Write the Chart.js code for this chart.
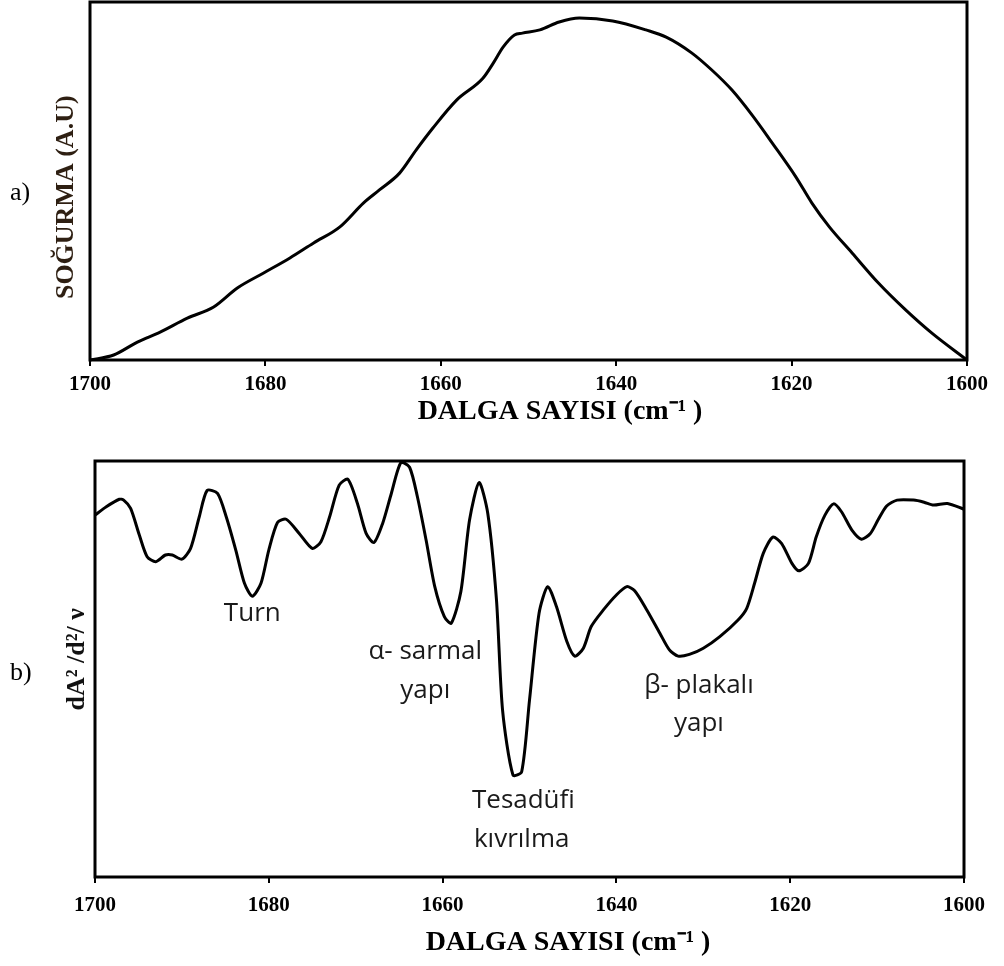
<!DOCTYPE html>
<html lang="tr">
<head>
<meta charset="UTF-8">
<title>Amid I bandı ve ikinci türev</title>
<script src="https://cdn.jsdelivr.net/npm/chart.js"></script>
<style>
    html, body {
        margin: 0;
        padding: 0;
        width: 1004px;
        height: 966px;
        overflow: hidden;
        background: #fff;
    }
    .panel {
        position: absolute;
        left: 0;
        width: 1004px;
    }
    #panelA { top: 0; height: 440px; }
    #panelB { top: 440px; height: 526px; }
    .tag {
        position: absolute;
        font-family: 'Liberation Serif', 'Times New Roman', serif;
        font-size: 26px;
        line-height: 1;
        color: #000;
    }
</style>
</head>
<body>
<div class="panel" id="panelA"><canvas id="chartA"></canvas></div>
<div class="panel" id="panelB"><canvas id="chartB"></canvas></div>
<div class="tag" style="left:10px; top:179px;">a)</div>
<div class="tag" style="left:10px; top:659px;">b)</div>

<script>
// x axis (wavenumber, cm-1), shared by both panels
const xTickValues = [1700, 1680, 1660, 1640, 1620, 1600];

// a) absorbance spectrum (arbitrary units)
const wavenumbersA = [1700, 1697.3, 1694.6, 1692, 1688.9, 1685.9, 1683.2, 1680.2, 1677.2, 1674.5,
    1671.5, 1668.8, 1667, 1664.7, 1662.8, 1660.9, 1658.2, 1655.2, 1654, 1652.9,
    1651.6, 1650.7, 1648.7, 1646.5, 1644.2, 1640.4, 1636.6, 1634.3, 1631.4, 1629.1,
    1626.8, 1624.5, 1622.2, 1619.5, 1617.7, 1615.7, 1613.1, 1610.1, 1607, 1604, 1600];
const absorbanceA = [0, 1.4, 5.0, 7.8, 11.7, 14.8, 20.1, 24.3, 28.5, 32.7,
    37.2, 43.9, 47.5, 52.2, 58.7, 64.8, 72.6, 78.7, 83.0, 87.4,
    90.8, 91.3, 92.2, 94.4, 95.5, 94.7, 92.2, 90.2, 85.8, 81.0,
    75.4, 68.4, 60.6, 51.1, 43.9, 37.2, 29.9, 21.5, 14.0, 7.5, 0];

// b) second derivative (arbitrary units)
const wavenumbersB = [1700, 1698.7, 1697.2, 1696.7, 1695.9, 1694.9, 1694, 1693, 1691.9, 1691.1,
    1690, 1689, 1688, 1687.1, 1685.9, 1684.9, 1683.8, 1682.8, 1681.9, 1680.9,
    1680, 1679, 1678, 1676.5, 1675, 1674, 1673, 1671.9, 1670.9, 1669.8,
    1668.8, 1667.9, 1666.9, 1665.9, 1664.8, 1663.8, 1662.9, 1661.9, 1660.9, 1659.8,
    1659, 1657.9, 1656.9, 1655.8, 1654.8, 1653.8, 1653.1, 1651.9, 1650.9, 1650,
    1648.9, 1647.9, 1646.9, 1645.7, 1644.8, 1643.8, 1642.9, 1641.5, 1640, 1638.8,
    1637.9, 1636.5, 1635, 1633.9, 1632.9, 1631.6, 1630, 1628.1, 1626, 1625,
    1624.1, 1623.1, 1622, 1621, 1619.8, 1619, 1617.9, 1617, 1616, 1615,
    1614.1, 1612.9, 1611.8, 1610.8, 1609.9, 1608.9, 1607.7, 1605.8, 1604.6, 1603.5,
    1601.9, 1600];
const derivativeB = [87.0, 89.0, 90.8, 90.6, 88.6, 82.2, 77.0, 75.8, 77.4, 77.4,
    76.4, 79.0, 86.6, 92.9, 92.2, 86.6, 78.6, 70.6, 67.5, 70.6,
    78.6, 85.2, 86.0, 82.6, 79.0, 80.6, 86.6, 94.2, 95.6, 89.8,
    82.6, 80.4, 85.0, 92.2, 99.6, 98.5, 91.4, 81.0, 69.8, 62.6,
    61.0, 68.6, 85.8, 94.8, 87.4, 66.6, 40.1, 24.5, 25.3, 42.5,
    63.4, 69.8, 65.0, 56.6, 53.1, 55.0, 60.2, 64.2, 67.8, 69.8,
    68.8, 64.2, 58.6, 54.6, 53.1, 53.5, 55.0, 57.8, 61.8, 64.6,
    70.6, 77.8, 81.7, 80.2, 75.4, 73.6, 75.4, 81.8, 87.0, 89.7,
    87.8, 83.4, 81.2, 82.5, 85.8, 89.2, 90.6, 90.6, 90.1, 89.4,
    89.8, 88.4];

// band assignments written on panel b (anchored in data units)
const noteText = ['Turn', 'α- sarmal', 'yapı', 'Tesadüfi', 'kıvrılma', 'β- plakalı', 'yapı'];
const noteWn   = [1681.9, 1662.0, 1662.0, 1650.7, 1650.9, 1630.5, 1630.5];
const noteVal  = [63.2, 54.1, 44.7, 18.3, 9.1, 45.9, 36.8];

const SERIF = "'Liberation Serif', 'Times New Roman', serif";
const xTitle = 'DALGA SAYISI (cm⁻¹ )';

// closed box round the plot area
const framePlugin = {
    id: 'frame',
    afterDatasetsDraw(chart) {
        const { ctx, chartArea: a } = chart;
        ctx.save();
        ctx.strokeStyle = '#000';
        ctx.lineWidth = 3;
        ctx.strokeRect(a.left, a.top, a.right - a.left, a.bottom - a.top);
        ctx.restore();
    }
};

const notesPlugin = {
    id: 'notes',
    afterDraw(chart, args, opts) {
        if (!opts.text) return;
        const { ctx, scales } = chart;
        ctx.save();
        ctx.font = "26px 'Open Sans', sans-serif";
        ctx.fillStyle = '#1a1a1a';
        ctx.textAlign = 'center';
        ctx.textBaseline = 'middle';
        opts.text.forEach((t, i) => {
            ctx.fillText(t, scales.x.getPixelForValue(opts.wn[i]), scales.y.getPixelForValue(opts.val[i]));
        });
        ctx.restore();
    }
};

function buildChart(id, wn, vals, cfg) {
    return new Chart(document.getElementById(id), {
        type: 'line',
        data: {
            datasets: [{
                data: wn.map((w, i) => ({ x: w, y: vals[i] })),
                borderColor: '#000',
                borderWidth: 3,
                pointRadius: 0,
                tension: cfg.tension,
                cubicInterpolationMode: cfg.mode,
                borderJoinStyle: 'round',
                clip: 4
            }]
        },
        options: {
            responsive: true,
            maintainAspectRatio: false,
            animation: false,
            layout: { padding: cfg.padding },
            plugins: {
                legend: { display: false },
                tooltip: { enabled: false },
                notes: cfg.notes || {}
            },
            scales: {
                x: {
                    type: 'linear',
                    reverse: true,
                    min: 1600,
                    max: 1700,
                    afterBuildTicks: s => { s.ticks = xTickValues.map(v => ({ value: v })); },
                    afterFit: s => { s.height = cfg.xHeight; },
                    grid: { drawOnChartArea: false, tickLength: 6, color: '#000', lineWidth: 2 },
                    border: { display: false },
                    ticks: {
                        color: '#000',
                        padding: cfg.tickPad,
                        autoSkip: false,
                        maxRotation: 0,
                        font: { family: SERIF, size: 21, weight: 'bold' },
                        callback: v => String(v)
                    },
                    title: {
                        display: true,
                        // leading spaces push the title right of the plot centre, as in the original
                        text: cfg.xTitleLead + xTitle,
                        color: '#000',
                        padding: 0,
                        font: { family: SERIF, size: 28, weight: 'bold' }
                    }
                },
                y: {
                    min: 0,
                    max: 100,
                    afterFit: s => { s.width = cfg.yWidth; },
                    grid: { display: false },
                    border: { display: false },
                    ticks: { display: false },
                    title: {
                        display: true,
                        text: cfg.yTitle,
                        color: cfg.yColor,
                        padding: { top: cfg.yTitlePad, bottom: 0 },
                        font: { family: SERIF, size: 26, weight: 'bold' }
                    }
                }
            }
        },
        plugins: [framePlugin, notesPlugin]
    });
}

document.addEventListener('DOMContentLoaded', function () {
    buildChart('chartA', wavenumbersA, absorbanceA, {
        padding: { left: 0, top: 2, right: 37, bottom: 11 },
        xHeight: 69,
        yWidth: 90,
        tickPad: 6,
        tension: 0.4,
        mode: 'monotone',
        xTitleLead: '\u2003\u2003 ',
        yTitle: 'SOĞURMA (A.U)\u2003 ',
        yColor: '#2e1f12',
        yTitlePad: 51
    });

    buildChart('chartB', wavenumbersB, derivativeB, {
        padding: { left: 0, top: 21, right: 40, bottom: 6 },
        xHeight: 83,
        yWidth: 95,
        tickPad: 10,
        tension: 0.25,
        mode: 'default',
        xTitleLead: '\u2003\u2003   ',
        yTitle: '   dA² /d²/ ν',
        yColor: '#111',
        yTitlePad: 62,
        notes: { text: noteText, wn: noteWn, val: noteVal }
    });
});
</script>
</body>
</html>
